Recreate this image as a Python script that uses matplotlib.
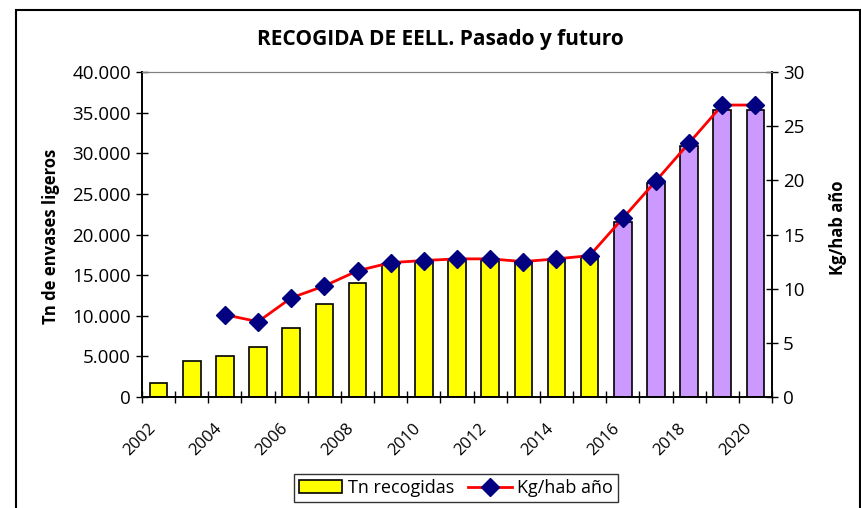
import matplotlib
matplotlib.use("Agg")
import matplotlib.pyplot as plt
import numpy as np
from matplotlib.patches import Patch, Rectangle
from matplotlib.lines import Line2D
from matplotlib.ticker import FuncFormatter
from matplotlib.transforms import ScaledTranslation

years = list(range(2002, 2021))
tn_recogidas = [1700, 4400, 5000, 6100, 8500, 11450, 14050, 16350, 16800, 16950,
                16990, 16650, 16860, 17200, 21600, 26300, 30900, 35300, 35300]
kg_hab = [np.nan, np.nan, 7.6, 6.95, 9.15, 10.25, 11.65, 12.4, 12.6, 12.75,
          12.75, 12.5, 12.75, 13.05, 16.5, 19.95, 23.45, 26.95, 26.95]
first_future = 2016

plt.rcParams["font.family"] = ["Open Sans", "DejaVu Sans"]

fig = plt.figure(figsize=(8.62, 5.08), dpi=100)
ax = fig.add_axes([142 / 862, 1 - 397 / 508, 630 / 862, 325 / 508])
ax2 = ax.twinx()

x = np.arange(len(years))
colors = ["#FFFF00" if y < first_future else "#CC99FF" for y in years]
ax.bar(x, tn_recogidas, width=0.53, color=colors, edgecolor="black", linewidth=1.2, zorder=2)
ax2.plot(x, kg_hab, color="#FF0000", lw=2, marker="D", ms=9,
         markerfacecolor="#000080", markeredgecolor="#000080", zorder=3)

ax.set_xlim(-0.5, len(years) - 0.5)
ax.set_ylim(0, 40000)
ax2.set_ylim(0, 30)
ax.set_yticks(np.arange(0, 40001, 5000))
ax2.set_yticks(np.arange(0, 31, 5))
ax.yaxis.set_major_formatter(FuncFormatter(lambda v, p: f"{int(v):,}".replace(",", ".")))

ax.set_xticks(x)
ax.set_xticklabels([str(y) if (y - 2002) % 2 == 0 else "" for y in years],
                   rotation=45, ha="right", fontsize=12)
shift = ScaledTranslation(-9 / 100, 0, fig.dpi_scale_trans)
for lab in ax.get_xticklabels():
    lab.set_transform(lab.get_transform() + shift)
ax.tick_params(axis="x", which="major", length=0, pad=17)
ax.set_xticks(np.arange(-0.5, len(years)), minor=True)
ax.tick_params(axis="x", which="minor", direction="inout", length=8, width=1)
ax.tick_params(axis="y", direction="inout", length=8, width=1, labelsize=13.5, pad=4)
ax2.tick_params(axis="y", direction="inout", length=8, width=1, labelsize=13.5, pad=4)

for a in (ax, ax2):
    a.spines["top"].set_color("#808080")
    a.spines["left"].set_linewidth(1.2)
    a.spines["right"].set_linewidth(1.2)
    a.spines["bottom"].set_linewidth(1.2)
ax.set_zorder(ax2.get_zorder() - 1)
ax2.patch.set_visible(False)

ax.set_ylabel("Tn de envases ligeros", fontsize=12, fontweight="bold")
ax.yaxis.set_label_coords(-0.130, 0.495)
ax2.set_ylabel("Kg/hab año", fontsize=12, fontweight="bold")
ax2.yaxis.set_label_coords(1.090, 0.52)
fig.text(440 / 862, 1 - 40 / 508, "RECOGIDA DE EELL. Pasado y futuro",
         ha="center", va="center", fontsize=15, fontweight="bold")

handles = [Patch(facecolor="#FFFF00", edgecolor="black", linewidth=1.2),
           Line2D([], [], color="#FF0000", lw=2, marker="D", ms=9,
                  markerfacecolor="#000080", markeredgecolor="#000080")]
leg = fig.legend(handles, ["Tn recogidas", "Kg/hab año"], ncol=2,
                 loc="center", bbox_to_anchor=(456 / 862, 1 - 488 / 508),
                 fontsize=13, frameon=True, fancybox=False, edgecolor="black",
                 handlelength=2.4, columnspacing=0.8, handletextpad=0.3,
                 borderpad=0.3)
leg.get_frame().set_linewidth(1)

fig.patches.append(Rectangle((16 / 862, -0.05), 844 / 862, 1.05 - 10 / 508,
                             transform=fig.transFigure, fill=False,
                             edgecolor="black", linewidth=1.5))

fig.savefig("out.png", dpi=100)
